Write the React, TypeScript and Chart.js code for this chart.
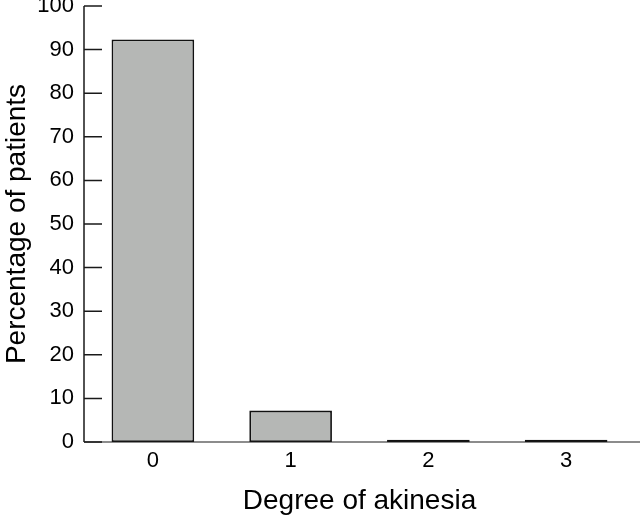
import React, { useEffect, useRef } from "react";
import { Chart, registerables } from "chart.js";

Chart.register(...registerables);

const categories = ["0", "1", "2", "3"];
const percentages = [92.3, 7.2, 0.5, 0.5];
const yTickValues = [0, 10, 20, 30, 40, 50, 60, 70, 80, 90, 100];
const xTitle = "Degree of akinesia";
const yTitle = "Percentage of patients";

const FONT = '"Liberation Sans", Arial, Helvetica, sans-serif';

const axesPlugin = {
  id: "inwardAxes",
  afterDatasetsDraw(chart: any) {
    const { ctx, chartArea, scales } = chart;
    const y = scales.y;
    const y0 = y.getPixelForValue(0);
    const yTop = y.getPixelForValue(100);
    ctx.save();
    ctx.strokeStyle = "#1a1a1a";
    ctx.lineWidth = 1.5;
    ctx.beginPath();
    ctx.moveTo(chartArea.left, yTop);
    ctx.lineTo(chartArea.left, y0);
    y.ticks.forEach((t: any) => {
      const py = y.getPixelForValue(t.value);
      ctx.moveTo(chartArea.left, py);
      ctx.lineTo(chartArea.left + 18, py);
    });
    ctx.stroke();
    ctx.lineWidth = 1.2;
    ctx.beginPath();
    ctx.moveTo(chartArea.left, y0);
    ctx.lineTo(chart.width, y0);
    ctx.stroke();
    ctx.restore();
  },
};

export default function App() {
  const ref = useRef<HTMLCanvasElement | null>(null);

  useEffect(() => {
    if (!ref.current) return;
    const chart = new Chart(ref.current, {
      type: "bar",
      data: {
        labels: categories,
        datasets: [
          {
            data: percentages,
            backgroundColor: "#b5b7b5",
            borderColor: "#111111",
            borderWidth: 1.8,
            borderSkipped: false,
            categoryPercentage: 1,
            barPercentage: 0.6,
          },
        ],
      },
      options: {
        animation: false,
        responsive: false,
        maintainAspectRatio: false,
        layout: { padding: { top: 6, right: 5, left: 0, bottom: 0 } },
        plugins: {
          legend: { display: false },
          tooltip: { enabled: false },
        },
        scales: {
          x: {
            grid: { display: false, drawTicks: false },
            border: { display: false },
            ticks: {
              color: "#000",
              font: { family: FONT, size: 22 },
              padding: 6,
              maxRotation: 0,
            },
            title: {
              display: true,
              text: xTitle,
              color: "#000",
              font: { family: FONT, size: 28 },
              padding: { top: 0, bottom: 0 },
            },
            afterFit(scale: any) {
              scale.height = 76;
              scale.paddingLeft = 0;
              scale.paddingRight = 0;
            },
          },
          y: {
            min: 0,
            max: 100,
            afterBuildTicks(scale: any) {
              scale.ticks = yTickValues.map((v) => ({ value: v }));
            },
            grid: { display: false, drawTicks: false },
            border: { display: false },
            ticks: {
              color: "#000",
              font: { family: FONT, size: 22 },
              padding: 10,
            },
            title: {
              display: true,
              text: yTitle,
              color: "#000",
              font: { family: FONT, size: 28 },
              padding: { top: 0, bottom: 0 },
            },
            afterFit(scale: any) {
              scale.width = 84;
              scale.paddingTop = 0;
              scale.paddingBottom = 0;
            },
          },
        },
      },
      plugins: [axesPlugin],
    });
    return () => chart.destroy();
  }, []);

  return (
    <div
      style={{
        position: "fixed",
        left: 0,
        top: 0,
        width: 640,
        height: 518,
        background: "#fff",
      }}
    >
      <canvas ref={ref} width={640} height={518} style={{ display: "block" }} />
    </div>
  );
}
